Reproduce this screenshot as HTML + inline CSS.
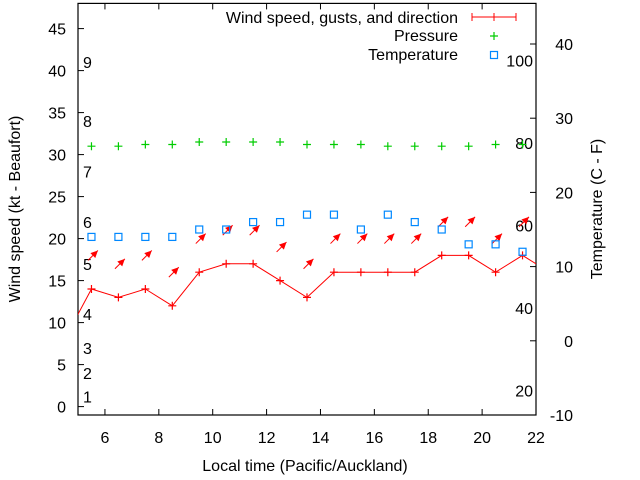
<!DOCTYPE html>
<html><head><meta charset="utf-8"><style>
body{margin:0;background:#fff}
svg{display:block;font-family:"Liberation Sans",sans-serif}
</style></head><body>
<svg id="chart" width="640" height="480" viewBox="0 0 640 480" xmlns="http://www.w3.org/2000/svg"></svg>
<script>
const hours = [5.5,6.5,7.5,8.5,9.5,10.5,11.5,12.5,13.5,14.5,15.5,16.5,17.5,18.5,19.5,20.5,21.5];
const windKt = [14,13,14,12,16,17,17,15,13,16,16,16,16,18,18,16,18];
const windEdgeHours = [4.5,22.5];
const windEdgeKt = [8,16];
const gustKt = [18,17,18,16,20,21,21,19,17,20,20,20,20,22,22,20,22];
const windDir = [225,225,225,225,225,225,225,225,225,225,225,225,225,225,225,225,225];
const pressure = [31,31,31.2,31.2,31.5,31.5,31.5,31.5,31.2,31.2,31.2,31,31,31,31,31.2,31.2];
const tempC = [14,14,14,14,15,15,16,16,17,17,15,17,16,15,13,13,12];
const xTicks = [6,8,10,12,14,16,18,20,22];
const yTicks = [0,5,10,15,20,25,30,35,40,45];
const y2Ticks = [-10,0,10,20,30,40];
const beaufort = [1,2,3,4,5,6,7,8,9];
const beaufortKt = [1.2,4,7,11,17,22,28,34,41];
const fahrenheit = [20,40,60,80,100];

const FS=16;
const L=78,R=536,T=3.4,B=415;
const X=v=>L+(v-5)*(R-L)/17;
const Y=v=>B-(v+1)*8.4;
const Y2=v=>B-(v+10)*7.42;
const F2C=f=>(f-32)*5/9;
const svg=document.getElementById('chart');
const NS='http://www.w3.org/2000/svg';
function mk(tag,attrs,parent){const e=document.createElementNS(NS,tag);for(const k in attrs)e.setAttribute(k,attrs[k]);(parent||svg).appendChild(e);return e;}
function txt(s,x,y,anchor,parent){const t=mk('text',{x:x,y:y,'text-anchor':anchor,'font-size':FS,fill:'#000'},parent);t.textContent=s;return t;}

const defs=mk('defs',{});
const cp=mk('clipPath',{id:'clip'},defs);mk('rect',{x:L,y:T,width:R-L,height:B-T},cp);

const frame=mk('rect',{x:L,y:T,width:R-L,height:B-T,fill:'none',stroke:'#000','stroke-width':1.2});



xTicks.forEach(v=>{
  mk('line',{x1:X(v),x2:X(v),y1:B,y2:B-6,stroke:'#000'});
  mk('line',{x1:X(v),x2:X(v),y1:T,y2:T+6,stroke:'#000'});
  const t=txt(String(v),X(v),443,'middle');
  
  
});
yTicks.forEach(v=>{
  mk('line',{x1:L,x2:L+6,y1:Y(v),y2:Y(v),stroke:'#000'});
  const t=txt(String(v),66,Y(v)+6,'end');
  
  
});
y2Ticks.forEach(v=>{
  mk('line',{x1:R,x2:R-6,y1:Y2(v),y2:Y2(v),stroke:'#000'});
  const t=txt(String(v),573,Y2(v)+6,'end');
  
  
});
beaufort.forEach((b,i)=>{
  const t=txt(String(b),83,Y(beaufortKt[i])+6,'start');
  
  
});
fahrenheit.forEach(f=>{
  const t=txt(String(f),533,Y2(F2C(f))+6,'end');
  
  
});

const g=mk('g',{'clip-path':'url(#clip)'});
const pts=[[windEdgeHours[0],windEdgeKt[0]]].concat(hours.map((h,i)=>[h,windKt[i]])).concat([[windEdgeHours[1],windEdgeKt[1]]]);
const wl=mk('polyline',{points:pts.map(p=>X(p[0])+','+Y(p[1])).join(' '),fill:'none',stroke:'#f00','stroke-width':1},g);


hours.forEach((h,i)=>{
  const x=X(h),y=Y(windKt[i]);
  const m=mk('path',{d:`M${x-4},${y}H${x+4}M${x},${y-4}V${y+4}`,stroke:'#f00','stroke-width':1.2},g);
  
  
  const cx=x+1.5,cy=Y(gustKt[i]);
  const a=(windDir[i]-180)*Math.PI/180;
  const dx=Math.sin(a)*7,dy=-Math.cos(a)*7;
  const hx=cx+dx,hy=cy+dy;
  const ang=Math.atan2(dy,dx);
  const p1=[hx-8*Math.cos(ang-0.45),hy-8*Math.sin(ang-0.45)],p2=[hx-8*Math.cos(ang+0.45),hy-8*Math.sin(ang+0.45)];
  const ar=mk('g',{},g);
  
  
  mk('line',{x1:cx-dx,y1:cy-dy,x2:hx,y2:hy,stroke:'#f00','stroke-width':1},ar);
  mk('polygon',{points:`${hx},${hy} ${p1[0]},${p1[1]} ${p2[0]},${p2[1]}`,fill:'#f00'},ar);
});
hours.forEach((h,i)=>{
  const x=X(h),y=Y(pressure[i]);
  const m=mk('path',{d:`M${x-4},${y}H${x+4}M${x},${y-4}V${y+4}`,stroke:'#0c0','stroke-width':1.2},g);
  
  
});
hours.forEach((h,i)=>{
  const x=X(h),y=Y2(tempC[i]);
  const m=mk('rect',{x:x-3.5,y:y-3.5,width:7,height:7,fill:'none',stroke:'#08f','stroke-width':1.2},g);
  
  
});

const lg=mk('g',{});


[['Wind speed, gusts, and direction',23],['Pressure',41],['Temperature',60]].forEach(e=>{
  const t=txt(e[0],458,e[1],'end',lg);
  
  
});
mk('path',{d:'M472,17H516M472,13V21M494,13V21M516,13V21',stroke:'#f00','stroke-width':1},lg);
mk('path',{d:'M490,36H498M494,32V40',stroke:'#0c0','stroke-width':1.2},lg);
mk('rect',{x:490.5,y:51.5,width:7,height:7,fill:'none',stroke:'#08f','stroke-width':1.2},lg);

const xt=txt('Local time (Pacific/Auckland)',305,471,'middle');


const yt=txt('Wind speed (kt - Beaufort)',0,0,'middle');
yt.setAttribute('transform','translate(20,209) rotate(-90)');


const y2t=txt('Temperature (C - F)',0,0,'middle');
y2t.setAttribute('transform','translate(602,209) rotate(-90)');


</script>
</body></html>
